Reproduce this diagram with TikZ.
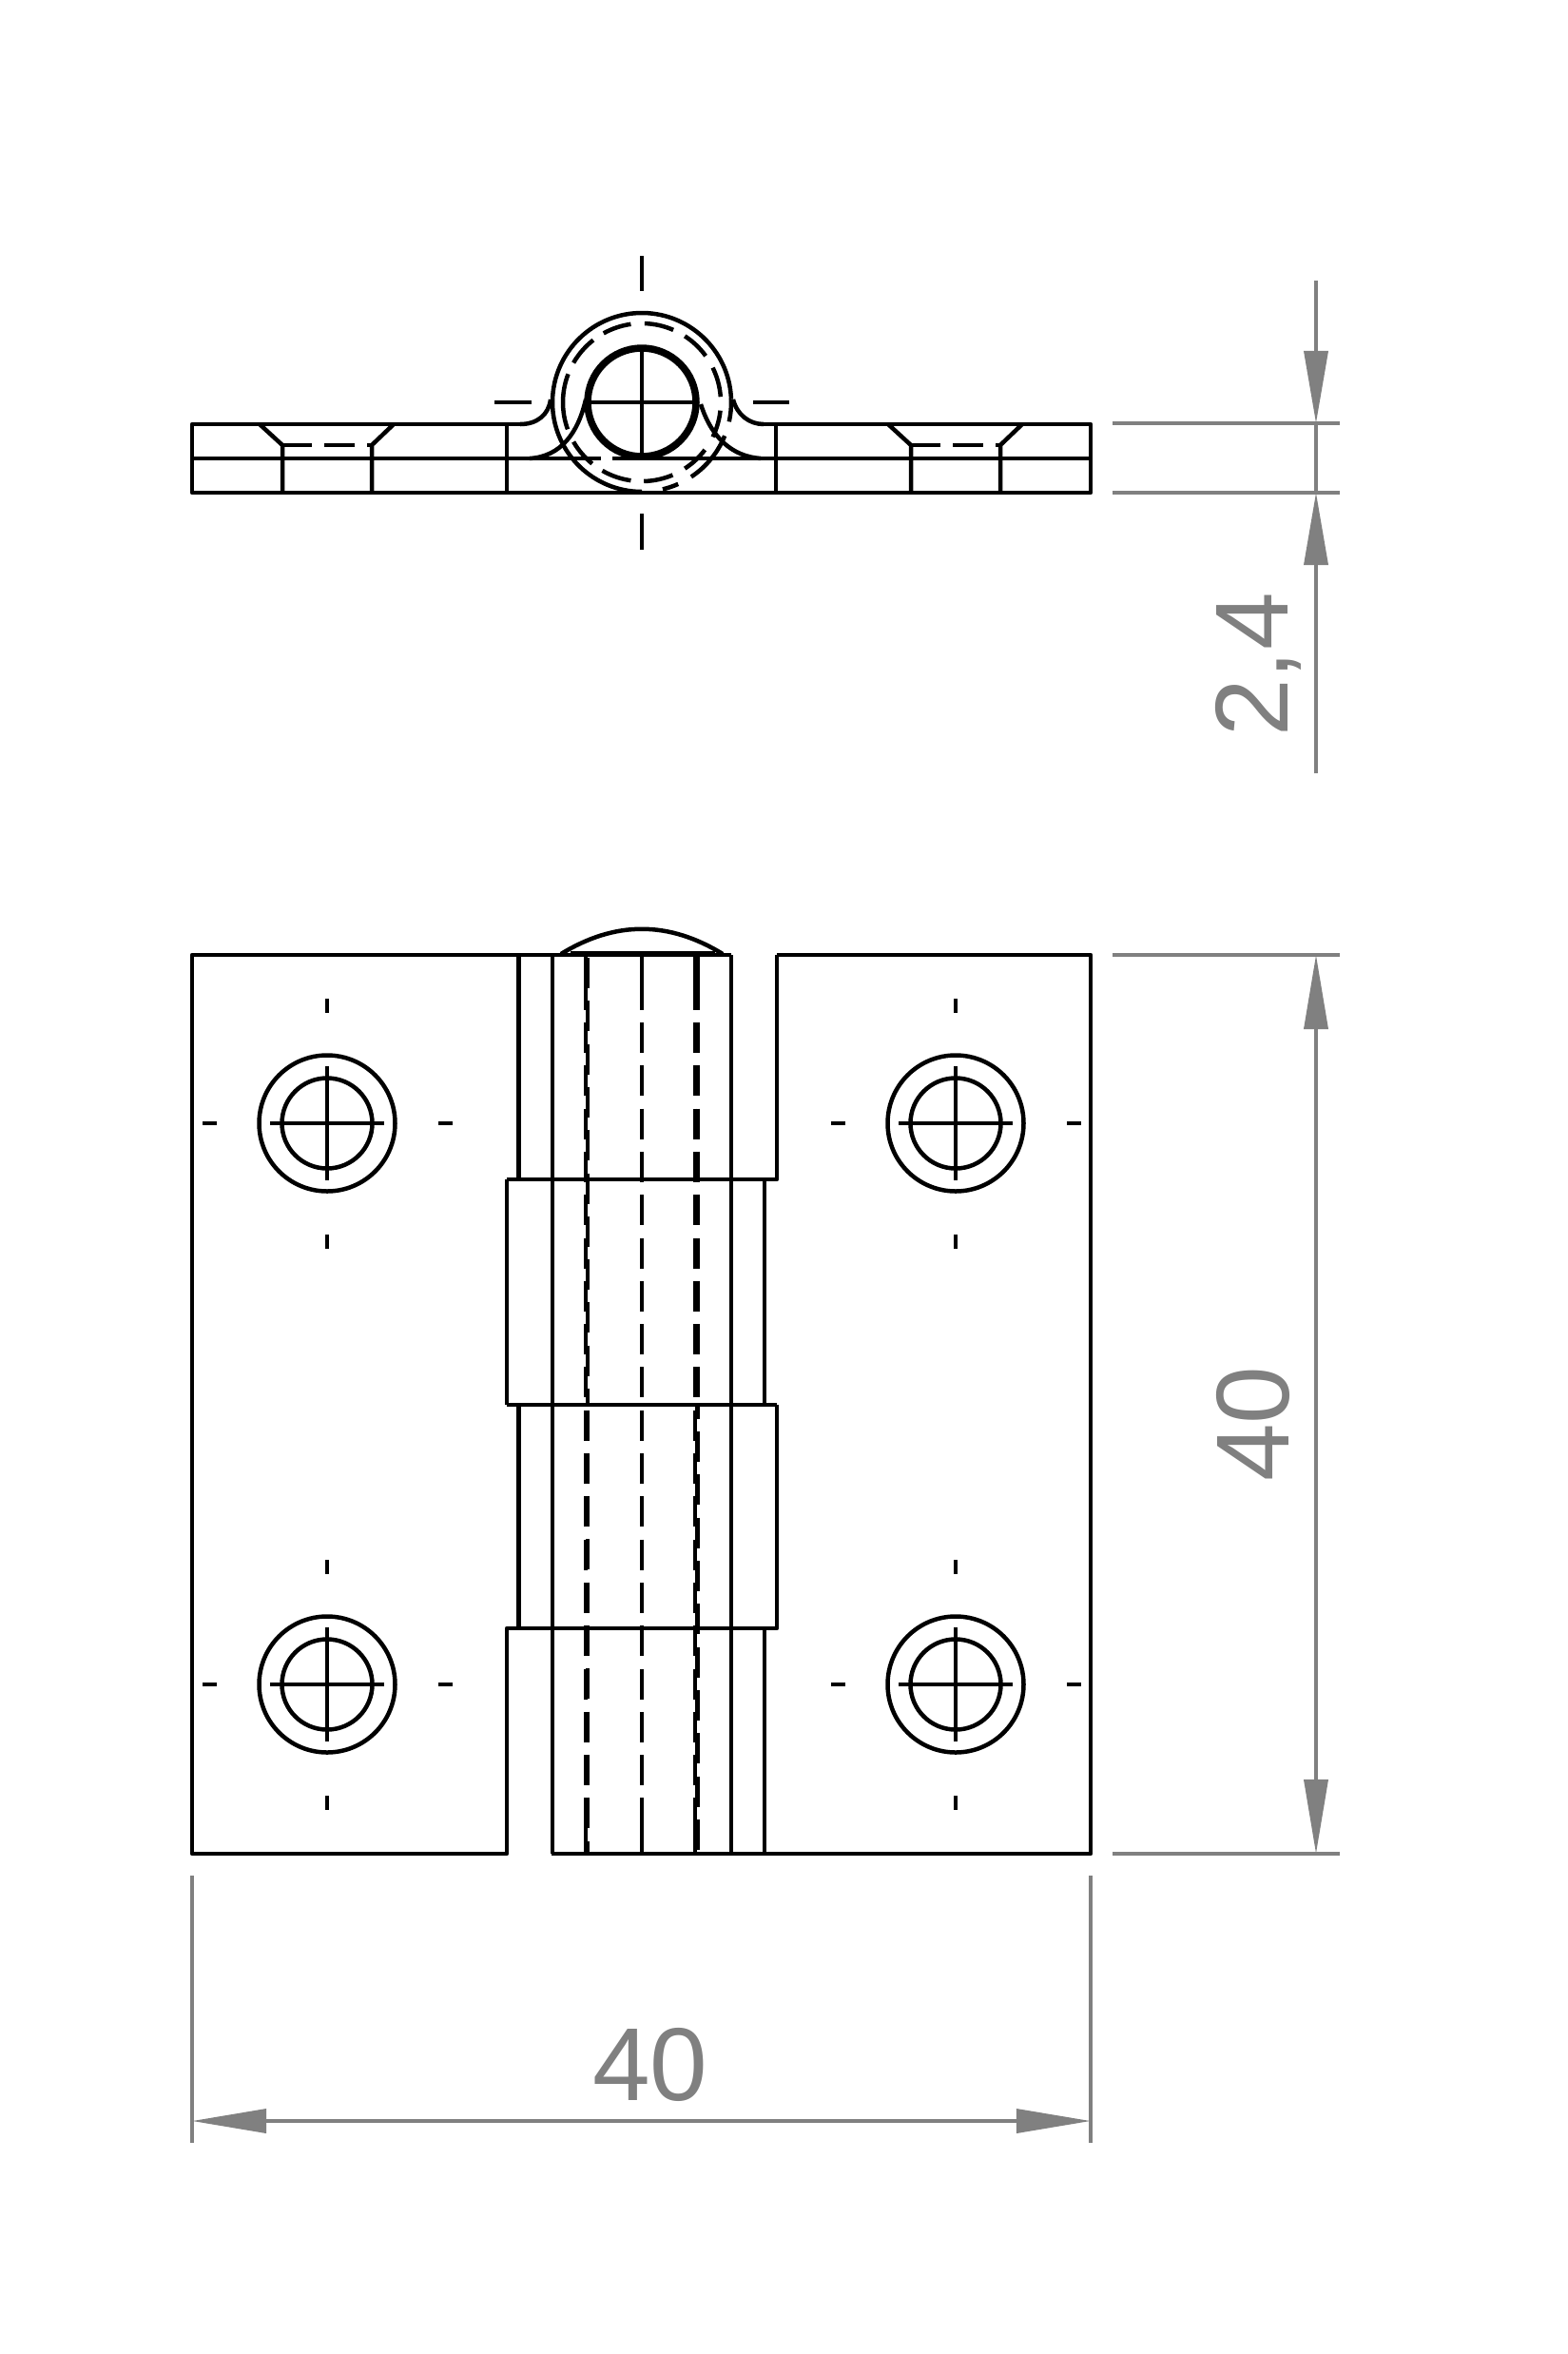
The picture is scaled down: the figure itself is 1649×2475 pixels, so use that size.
\documentclass[tikz,border=0pt]{standalone}
\usepackage{fontspec}
\setmainfont{Liberation Sans}
\usetikzlibrary{arrows.meta}

\begin{document}
\begin{tikzpicture}[x=0.01cm, y=-0.01cm, line join=round,
    outline/.style = {draw, line width=0.45mm},
    hidden/.style = {outline, dash pattern=on 3.2mm off 1.328mm},
    dimline/.style = {draw=gray50, line width=0.36mm},
    dimarrow/.style = {dimline, fill=gray50},
    dimtext/.style = {text=gray50, font=\fontsize{31}{31}\selectfont, inner sep=0pt}]
    \definecolor{gray50}{HTML}{808080}
    \useasboundingbox (0,0) rectangle (1649,2475);
    \fill[white] (0,0) rectangle (1649,2475);

    \coordinate (k) at (675,423);
    \draw[outline] (547,446) -- (202,446) -- (202,518) -- (1147,518) -- (1147,446) -- (803,446);
    \draw[outline] (202,482) -- (632,482);
    \draw[outline] (644,482) -- (1147,482);
    \draw[outline] (533,446) -- (533,518);
    \draw[outline] (816,446) -- (816,518);
    \foreach \m in {0,661} {
        \draw[outline] (273+\m,446) -- (297+\m,468) -- (297+\m,518);
        \draw[outline] (414+\m,446) -- (391+\m,468) -- (391+\m,518);
        \draw[outline] (297+\m,468) -- (328+\m,468);
        \draw[outline] (341+\m,468) -- (373+\m,468);
        \draw[outline] (386+\m,468) -- (391+\m,468);
    }
    \draw[outline] (547,446) .. controls (565,446) and (577,436) .. (579,420);
    \draw[outline] (771,420) .. controls (775,436) and (788,446) .. (803,446);
    \draw[outline] (557,482) .. controls (590,480) and (608,455) .. (616,420);
    \draw[outline] (737,425) .. controls (748,460) and (770,480) .. (800,482);
    \draw[outline] (675,423) ++(-2:94) arc (-2:-270:94);
    \draw[outline, line width=0.75mm] (k) circle (57);
    \foreach \a/\b in {6/26, 37/57, 67/88.5, 98/120, 129/150, 160/201, 210/232, 241/262, 272/293.5, 303/324, 334/356}
        \draw[outline] (k) ++(\a:83) arc (\a:\b:83);
    \foreach \a/\b in {-2/12.5, 22/56.5, 66/76.5}
        \draw[outline] (k) ++(\a:94) arc (\a:\b:94);
    \draw[outline] (675,363) -- (675,482);
    \draw[outline] (618,423) -- (732,423);
    \draw[outline] (675,269) -- (675,306);
    \draw[outline] (675,540) -- (675,578);
    \draw[outline] (520,423) -- (559,423);
    \draw[outline] (792,423) -- (830,423);

    \draw[outline] (769,1004) -- (202,1004) -- (202,1949) -- (533,1949) -- (533,1712) -- (545.7,1712);
    \draw[outline] (817,1004) -- (1147,1004) -- (1147,1949) -- (580,1949);
    \draw[outline] (590,1003) .. controls (647,968) and (703,968) .. (760,1003);
    \draw[outline, line width=0.55mm] (600,1002.5) -- (752,1002.5);
    \draw[outline] (533,1240) -- (817,1240) -- (817,1004);
    \draw[outline] (533,1477) -- (817,1477);
    \draw[outline] (533,1712) -- (817,1712) -- (817,1477);
    \draw[outline] (533,1240) -- (533,1477);
    \draw[outline] (804,1240) -- (804,1477);
    \draw[outline] (804,1712) -- (804,1949);
    \draw[outline] (545.7,1004) -- (545.7,1240);
    \draw[outline] (545.7,1477) -- (545.7,1712);
    \draw[outline] (581,1004) -- (581,1949);
    \draw[outline] (769,1004) -- (769,1949);

    \foreach \x in {615.8,675,731} {
        \draw[outline] (\x,1004) -- (\x,1062);
        \draw[hidden] (\x,1075) -- (\x,1877);
        \draw[outline] (\x,1890) -- (\x,1949);
    }
    \draw[hidden] (618,1007) -- (618,1477);
    \draw[hidden] (618,1482.5) -- (618,1949);
    \draw[hidden] (733.5,1075) -- (733.5,1477);
    \draw[outline] (733.5,1004) -- (733.5,1062);
    \draw[hidden, dash phase=1.72mm] (733.5,1477) -- (733.5,1949);

    \foreach \x in {344,1005} \foreach \y in {1181,1771} {
        \draw[outline] (\x,\y) circle (71.5);
        \draw[outline] (\x,\y) circle (47.5);
        \draw[outline] (\x-60,\y) -- (\x+60,\y);
        \draw[outline] (\x,\y-60) -- (\x,\y+60);
        \draw[outline] (\x-131,\y) -- (\x-116,\y);
        \draw[outline] (\x+117,\y) -- (\x+132,\y);
        \draw[outline] (\x,\y-131) -- (\x,\y-116);
        \draw[outline] (\x,\y+117) -- (\x,\y+132);
    }

    \coordinate (tA) at (1384,295);
    \coordinate (tB) at (1384,445);
    \coordinate (tC) at (1384,518);
    \coordinate (tD) at (1384,813);
    \coordinate (hA) at (1384,1004);
    \coordinate (hB) at (1384,1949);
    \coordinate (wA) at (202,2230);
    \coordinate (wB) at (1147,2230);
    \draw[dimline] (1170,445) -- (1409,445);
    \draw[dimline] (1170,518) -- (1409,518);
    \draw[dimline] (1170,1004) -- (1409,1004);
    \draw[dimline] (1170,1949) -- (1409,1949);
    \draw[dimline] (202,1972) -- (202,2253);
    \draw[dimline] (1147,1972) -- (1147,2253);
    \draw[dimline] (tB) -- (tC);
    \draw[dimarrow, -{Triangle[length=7.6mm,width=2.5mm]}] (tA) -- (tB);
    \draw[dimarrow, -{Triangle[length=7.6mm,width=2.5mm]}] (tD) -- (tC);
    \draw[dimarrow, {Triangle[length=7.8mm,width=2.5mm]}-{Triangle[length=7.8mm,width=2.5mm]}] (hA) -- (hB);
    \draw[dimarrow, {Triangle[length=7.8mm,width=2.5mm]}-{Triangle[length=7.8mm,width=2.5mm]}] (wA) -- (wB);
    \node[dimtext] (thick) at (1323,699) [rotate=90] {2,4};
    \node[dimtext] (height) at (1318,1497) [rotate=90] {40};
    \node[dimtext] (width) at (684,2171) {40};
\end{tikzpicture}
\end{document}
